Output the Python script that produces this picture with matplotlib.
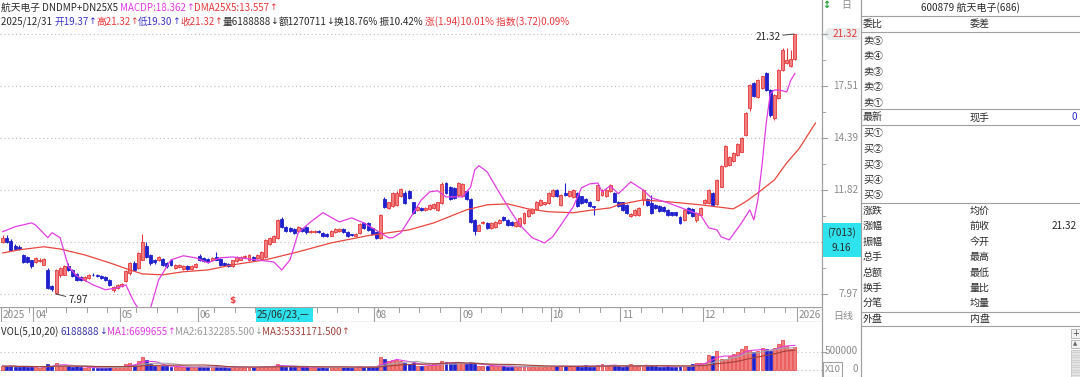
import numpy as np
import pandas as pd
import matplotlib
matplotlib.use('Agg')
import matplotlib.pyplot as plt
from matplotlib.patches import Rectangle, Polygon

plt.rcParams['font.family'] = ['Noto Sans CJK SC', 'DejaVu Sans']
plt.rcParams['axes.unicode_minus'] = False

# ---------------- data ----------------
holidays = ['2025-04-04', '2025-05-01', '2025-05-02', '2025-05-05', '2025-06-02',
            '2025-10-01', '2025-10-02', '2025-10-03', '2025-10-06', '2025-10-07', '2025-10-08']

opens = [9.72, 9.87, 9.74, 9.56, 9.52, 9.24, 9.18, 9.05, 9.00, 9.03, 8.90, 8.73, 8.22, 8.01, 8.57, 8.57,
         8.85, 8.73, 8.60, 8.51, 8.41, 8.46, 8.58, 8.57, 8.54, 8.51, 8.41, 8.08, 8.15, 8.20, 8.36, 8.62,
         8.95, 8.79, 9.07, 9.56, 9.24, 9.05, 9.07, 9.09, 8.95, 9.07, 8.80, 8.82, 8.76, 8.85, 8.76, 8.84,
         9.21, 9.13, 9.10, 9.07, 9.16, 9.09, 8.95, 8.93, 8.85, 9.02, 9.07, 9.17, 9.05, 9.16, 9.13, 9.09,
         9.18, 9.64, 9.72, 9.84, 10.58, 10.28, 10.25, 10.18, 10.10, 10.22, 10.26, 10.08, 10.08, 10.12,
         10.03, 10.00, 9.94, 10.06, 10.10, 10.21, 10.09, 9.99, 9.94, 10.03, 10.41, 10.44, 10.22, 10.06,
         9.85, 11.40, 11.04, 11.13, 11.17, 11.53, 11.70, 11.75, 11.27, 10.96, 11.02, 10.96, 10.99, 11.04,
         10.96, 11.25, 12.12, 11.94, 11.90, 11.60, 11.56, 11.75, 11.41, 10.55, 10.13, 10.42, 10.44, 10.22,
         10.28, 10.42, 10.68, 10.55, 10.48, 10.31, 10.31, 10.42, 10.69, 10.84, 11.00, 11.17, 11.21, 11.25,
         11.53, 11.82, 11.17, 11.68, 11.56, 11.51, 11.68, 11.53, 11.41, 11.31, 11.11, 11.38, 11.60, 11.56,
         11.75, 11.68, 11.31, 11.27, 11.17, 10.71, 10.75, 10.75, 11.38, 11.41, 11.25, 11.17, 11.13, 11.07,
         10.96, 10.85, 10.85, 10.68, 10.55, 11.04, 11.00, 10.55, 10.75, 11.25, 11.25, 11.68, 11.21, 11.97,
         12.92, 12.99, 13.16, 13.49, 13.66, 14.55, 16.10, 17.70, 16.80, 17.36, 18.40, 17.25, 15.52, 16.74,
         18.61, 19.12, 18.87, 19.37]
closes = [9.86, 9.69, 9.42, 9.44, 9.45, 9.01, 9.00, 8.85, 9.14, 9.07, 9.10, 8.15, 8.13, 8.73, 8.79, 8.85,
          8.73, 8.54, 8.41, 8.41, 8.49, 8.57, 8.56, 8.52, 8.46, 8.41, 8.25, 8.18, 8.25, 8.27, 8.68, 8.95,
          8.73, 9.30, 9.72, 9.16, 8.95, 8.98, 9.18, 8.90, 8.85, 8.90, 8.90, 8.90, 8.85, 8.75, 8.86, 8.93,
          9.07, 9.02, 8.98, 9.13, 9.07, 8.90, 8.90, 8.85, 9.05, 9.16, 9.16, 9.21, 9.24, 9.07, 9.24, 9.33,
          9.78, 9.84, 9.91, 10.55, 10.27, 10.10, 10.10, 10.04, 10.28, 10.12, 10.06, 10.12, 10.12, 10.08,
          9.94, 9.94, 10.11, 10.18, 10.21, 10.06, 9.94, 9.96, 10.02, 10.37, 10.22, 10.16, 10.01, 9.85,
          10.75, 11.07, 11.27, 11.68, 11.70, 11.85, 11.24, 11.47, 10.83, 11.09, 10.96, 11.04, 11.17, 11.21,
          11.27, 12.09, 11.68, 11.41, 11.45, 12.12, 12.09, 11.41, 10.48, 10.10, 10.35, 10.48, 10.22, 10.44,
          10.48, 10.55, 10.55, 10.35, 10.35, 10.48, 10.62, 10.82, 10.96, 10.99, 11.31, 11.38, 11.27, 11.68,
          11.82, 11.56, 11.60, 11.60, 11.75, 11.82, 11.11, 11.25, 11.27, 11.11, 11.07, 12.04, 11.82, 11.82,
          12.04, 11.31, 11.11, 10.96, 10.82, 10.80, 10.96, 11.04, 11.82, 11.17, 10.84, 11.04, 10.93, 10.90,
          10.75, 10.76, 10.76, 10.42, 10.96, 10.82, 10.69, 10.82, 11.04, 11.38, 11.82, 11.17, 12.27, 12.92,
          13.93, 13.41, 13.58, 14.07, 14.37, 15.83, 17.55, 16.84, 17.90, 18.16, 17.25, 15.69, 16.93, 18.61,
          20.07, 19.32, 19.38, 21.32]
highs = [9.95, 9.95, 9.80, 9.62, 9.60, 9.28, 9.22, 9.08, 9.18, 9.12, 9.14, 8.78, 8.25, 8.75, 8.84, 8.90,
         8.95, 8.76, 8.63, 8.54, 8.52, 8.60, 8.62, 8.60, 8.57, 8.54, 8.44, 8.22, 8.28, 8.31, 8.72, 9.00,
         9.02, 9.35, 10.01, 9.70, 9.28, 9.10, 9.22, 9.12, 8.98, 9.10, 8.93, 8.94, 8.88, 8.88, 8.89, 8.96,
         9.26, 9.16, 9.13, 9.16, 9.36, 9.12, 8.98, 8.96, 9.08, 9.19, 9.19, 9.25, 9.28, 9.19, 9.27, 9.37,
         9.82, 9.90, 9.96, 10.60, 10.68, 10.32, 10.28, 10.22, 10.32, 10.25, 10.30, 10.16, 10.15, 10.15,
         10.06, 10.03, 10.14, 10.22, 10.25, 10.24, 10.12, 10.02, 10.05, 10.41, 10.45, 10.48, 10.25, 10.09,
         10.80, 11.50, 11.31, 11.72, 11.75, 11.92, 11.75, 11.80, 11.31, 11.12, 11.06, 11.08, 11.20, 11.25,
         11.30, 12.20, 12.16, 11.98, 11.94, 12.16, 12.14, 11.80, 11.45, 10.59, 10.39, 10.52, 10.48, 10.48,
         10.52, 10.59, 10.72, 10.59, 10.52, 10.52, 10.66, 10.86, 11.00, 11.03, 11.35, 11.42, 11.31, 11.72,
         11.86, 11.86, 11.64, 12.12, 11.79, 11.86, 11.72, 11.57, 11.45, 11.35, 11.12, 12.08, 11.86, 11.86,
         12.08, 11.72, 11.35, 11.31, 11.21, 10.84, 11.00, 11.08, 11.88, 11.45, 11.60, 11.21, 11.17, 11.11,
         11.00, 10.89, 10.89, 10.72, 11.00, 11.08, 11.04, 10.86, 11.08, 11.42, 11.86, 11.72, 12.30, 12.97,
         14.00, 13.46, 13.63, 14.12, 14.42, 15.88, 17.62, 17.80, 17.98, 18.22, 18.47, 17.30, 16.98, 18.68,
         20.22, 20.20, 20.07, 21.32]
lows = [9.68, 9.66, 9.38, 9.40, 9.40, 8.97, 8.96, 8.80, 8.97, 8.98, 8.88, 8.12, 8.05, 7.97, 8.50, 8.55,
        8.70, 8.51, 8.38, 8.38, 8.38, 8.44, 8.53, 8.49, 8.43, 8.38, 8.22, 8.03, 8.12, 8.17, 8.33, 8.58,
        8.68, 8.75, 9.05, 9.12, 8.90, 8.93, 9.03, 8.86, 8.81, 8.86, 8.77, 8.79, 8.73, 8.72, 8.73, 8.81,
        9.03, 8.99, 8.95, 9.04, 9.05, 8.87, 8.87, 8.82, 8.83, 9.00, 9.05, 9.14, 9.03, 9.04, 9.10, 9.07,
        9.15, 9.60, 9.69, 9.80, 10.22, 10.06, 10.06, 10.00, 10.07, 10.08, 10.02, 10.05, 10.05, 10.05,
        9.90, 9.90, 9.91, 10.03, 10.07, 10.03, 9.90, 9.93, 9.91, 10.00, 10.18, 10.12, 9.97, 9.81,
        9.82, 11.02, 11.00, 11.09, 11.13, 11.49, 11.20, 11.43, 10.79, 10.92, 10.92, 10.92, 10.95, 11.00,
        10.92, 11.21, 11.64, 11.37, 11.41, 11.56, 11.52, 11.37, 10.44, 9.95, 10.10, 10.38, 10.18, 10.18,
        10.25, 10.38, 10.51, 10.31, 10.31, 10.28, 10.28, 10.38, 10.65, 10.80, 10.96, 11.13, 11.17, 11.21,
        11.49, 11.52, 11.13, 11.56, 11.52, 11.47, 11.07, 11.21, 11.23, 11.07, 10.75, 11.34, 11.56, 11.52,
        11.71, 11.27, 11.07, 10.92, 10.78, 10.67, 10.71, 10.71, 11.17, 11.13, 10.80, 11.00, 10.89, 10.86,
        10.71, 10.72, 10.72, 10.38, 10.51, 10.78, 10.65, 10.45, 10.71, 11.21, 11.21, 11.13, 11.17, 11.93,
        12.88, 12.95, 13.12, 13.45, 13.62, 14.50, 15.95, 16.78, 16.74, 17.30, 17.20, 15.60, 15.40, 16.70,
        18.55, 19.00, 18.80, 19.30]
volumes = [95000, 85000, 110000, 70000, 60000, 100000, 75000, 85000, 60000, 50000, 70000,
           150000, 110000, 190000,
           110000, 100000, 90000, 80000, 85000, 60000, 55000, 60000, 45000, 40000, 50000, 50000, 70000, 65000, 60000,
           80000, 160000, 190000, 130000, 230000, 340000, 260000, 160000, 110000, 95000, 100000, 85000,
           80000, 70000, 65000, 60000, 70000, 65000, 70000, 90000, 80000, 70000, 60000, 85000, 75000, 60000,
           55000, 65000, 70000, 60000, 55000, 65000, 60000, 70000, 75000, 110000, 90000, 85000,
           140000, 120000,
           80000, 70000, 75000, 65000, 60000, 70000, 55000, 50000, 55000, 60000, 50000, 60000, 65000, 70000,
           60000, 65000, 55000, 60000, 90000, 75000, 80000, 70000, 65000,
           340000, 290000, 240000, 270000, 260000, 230000,
           190000, 160000, 170000, 110000, 90000, 100000, 120000,
           140000, 170000, 240000, 210000, 170000, 170000, 190000, 170000, 150000,
           200000, 160000, 110000, 90000, 100000, 100000, 110000, 90000,
           90000, 80000, 70000, 75000, 80000, 90000, 85000, 80000, 90000, 95000, 70000, 100000, 110000, 90000,
           85000, 100000, 80000, 85000, 100000, 80000, 130000, 75000, 80000, 130000,
           140000, 110000, 100000, 120000, 90000, 80000, 85000, 160000, 90000, 100000, 120000, 110000, 120000,
           85000, 80000, 75000, 90000, 70000, 65000, 110000, 90000, 90000, 160000, 170000, 190000,
           190000, 410000, 380000, 510000, 300000, 280000, 385000, 430000, 480000, 560000, 640000, 530000,
           480000, 520000, 600000, 560000, 510000, 590000, 700000, 817000, 650000, 565000, 618889]

dma_idx = [0, 4, 10, 14, 20, 26, 31, 34, 39, 44, 50, 56, 64, 72, 80, 89, 94, 99, 105, 113, 118, 123, 128,
           133, 139, 144, 148, 150, 156, 162, 170, 178, 181, 184, 188, 191, 194, 198]
dma_val = [9.31, 9.42, 9.53, 9.45, 9.24, 8.97, 8.73, 8.60, 8.57, 8.67, 8.73, 8.90, 9.07, 9.35, 9.67, 9.94,
           10.05, 10.16, 10.43, 10.96, 11.17, 11.21, 11.00, 10.88, 10.84, 10.96, 11.04, 11.17, 11.38, 11.30,
           11.17, 11.00, 11.30, 11.69, 12.27, 13.09, 13.81, 15.22]

macdp_idx = [0, 3, 7, 8, 11, 12, 14, 16, 18, 22, 25, 28, 30, 32, 33, 34, 36, 38, 41, 44, 47, 50, 53, 56, 60,
             66, 68, 70, 72, 75, 78, 82, 85, 88, 90, 92, 94, 95, 97, 99, 102, 104, 106, 108, 110, 112, 114,
             115, 116, 118, 121, 124, 126, 129, 132, 134, 136, 139, 141, 143, 145, 146, 148, 150, 153, 156,
             158, 162, 166, 170, 172, 174, 175, 177, 180, 182, 183, 184, 185, 186, 187, 188, 189, 190, 191,
             192, 193]
macdp_val = [10.09, 10.28, 10.43, 10.35, 9.86, 10.05, 9.86, 8.84, 8.54, 8.25, 8.10, 8.16, 8.25, 7.73, 7.55,
             7.33, 7.55, 8.41, 9.07, 9.21, 9.14, 8.97, 9.14, 9.17, 9.10, 9.00, 8.73, 9.07, 10.05, 10.47,
             10.84, 10.47, 10.63, 10.43, 10.24, 10.05, 9.86, 9.86, 10.05, 10.55, 11.38, 11.73, 11.78, 11.51,
             11.51, 11.51, 11.95, 12.75, 12.95, 12.66, 11.69, 10.84, 10.35, 9.86, 9.67, 9.90, 10.35, 11.09,
             11.91, 12.09, 12.13, 11.73, 12.00, 11.65, 12.18, 11.82, 11.47, 11.26, 11.00, 10.75, 10.24,
             10.16, 9.90, 9.78, 10.43, 10.96, 10.55, 11.40, 13.00, 15.20, 17.00, 17.25, 17.25, 17.20,
             17.12, 17.90, 18.36]

price_ticks = [21.32, 17.51, 14.39, 11.82, 9.71, 7.97]
price_tick_labels = ['21.32', '17.51', '14.39', '11.82', '', '7.97']
vol_ticks = [500000, 0]
vol_tick_labels = ['500000', '0']
cursor_price = 9.16
cursor_text = ['(7013)', '9.16']
cursor_date = '25/06/23,—'
cursor_day = 62
dividend_day = 56
low_day, high_day = 13, 193

header1 = [('航天电子 DNDMP+DN25X5 ', 'k'), ('MACDP:18.362↑', 'mag'), ('DMA25X5:13.557↑', 'red')]
header2 = [('2025/12/31 ', 'k'), ('开19.37↑', 'blue'), ('高21.32↑', 'red'), ('低19.30↑', 'blue'),
           ('收21.32↑', 'red'), ('量6188888↓额1270711↓换18.76% 振10.42% ', 'k'),
           ('涨(1.94)10.01% 指数(3.72)0.09%', 'red')]
vol_header = [('VOL(5,10,20) ', 'k'), ('6188888↓', 'vblue'), ('MA1:6699655↑', 'mag'),
              ('MA2:6132285.500↓', 'gray'), ('MA3:5331171.500↑', 'brown')]

panel_title = '600879 航天电子(686)'
panel_rows = [('委比', '委差', ''), ('卖⑤', '', ''), ('卖④', '', ''), ('卖③', '', ''), ('卖②', '', ''),
              ('卖①', '', ''), ('最新', '现手', '0'), ('买①', '', ''), ('买②', '', ''), ('买③', '', ''),
              ('买④', '', ''), ('买⑤', '', ''), ('涨跌', '均价', ''), ('涨幅', '前收', '21.32'),
              ('振幅', '今开', ''), ('总手', '最高', ''), ('总额', '最低', ''), ('换手', '量比', ''),
              ('分笔', '均量', ''), ('外盘', '内盘', '')]

# ---------------- style ----------------
W, H = 1080, 377
RED_E = '#E5393B'
RED_F = '#F27F7F'
BLUE = '#2020CC'
MAG = '#E23DE2'
DMA_C = '#E8463E'
GRID = '#BDBDBD'
AXC = '#A0A0A0'
TXT = '#2A2A2A'
LBL = '#8A8A8A'
CYAN = '#2FE3EE'
colmap = {'k': TXT, 'mag': '#E03AE0', 'red': '#E8383A', 'blue': '#3A34C8', 'vblue': '#3A34A8',
          'gray': '#9A9A9A', 'brown': '#A2413A'}
FS = 7.2
HFS = 7.0

o = np.array(opens); c = np.array(closes); h = np.array(highs); l = np.array(lows)
vol = np.array(volumes, dtype=float)
n = len(c)
idx = np.arange(n)
up = c >= o

days = pd.bdate_range('2025-03-20', '2025-12-31')
days = days[~days.isin(pd.to_datetime(holidays))][:n]

fig = plt.figure(figsize=(W / 100, H / 100), dpi=100)
fig.patch.set_facecolor('white')


def fbox(x0, y0, x1, y1):
    return [x0 / W, 1 - y1 / H, (x1 - x0) / W, (y1 - y0) / H]


X0, X1 = -0.66, 199.6

# ---------------- price panel ----------------
ax = fig.add_axes(fbox(0, 28, 822, 307))
ax.set_yscale('log')
lnhi, lnlo = np.log(price_ticks[0]), np.log(price_ticks[-1])
ppx = (lnhi - lnlo) / 260.0
ax.set_ylim(np.exp(lnlo - 13 * ppx), np.exp(lnhi + 6 * ppx))
ax.set_xlim(X0, X1)
ax.axis('off')
for p in price_ticks:
    ax.axhline(p, color=GRID, lw=0.8, ls=(0, (1, 2.5)), zorder=0)

ax.vlines(idx, l, h, colors=np.where(up, RED_E, BLUE), lw=0.8, zorder=2)
ax.bar(idx[up], (c - o)[up], bottom=o[up], width=0.72, color=RED_F, edgecolor=RED_E, lw=0.6, zorder=3)
ax.bar(idx[~up], (o - c)[~up], bottom=c[~up], width=0.72, color=BLUE, edgecolor=BLUE, lw=0.6, zorder=3)
ax.plot(dma_idx, dma_val, color=DMA_C, lw=0.9, zorder=4)
ax.plot(macdp_idx, macdp_val, color=MAG, lw=0.9, zorder=4)

ax.annotate(f'{h[high_day]:.2f}', xy=(high_day - 0.2, h[high_day]), xytext=(-10, -2),
            textcoords='offset points', ha='right', va='center', fontsize=FS, color=TXT,
            arrowprops=dict(arrowstyle='-', color='#444444', lw=0.7, shrinkA=0, shrinkB=0), zorder=6)
ax.annotate(f'{l[low_day]:.2f}', xy=(low_day, l[low_day]), xytext=(9, -4),
            textcoords='offset points', ha='left', va='center', fontsize=FS, color=TXT,
            arrowprops=dict(arrowstyle='-', color='#444444', lw=0.7, shrinkA=0, shrinkB=0), zorder=6)
ax.text(dividend_day, 0.025, '$', transform=ax.get_xaxis_transform(), color='#E8383A',
        fontsize=6.5, ha='center', va='center', fontweight='bold', family='DejaVu Sans')

# ---------------- date bar ----------------
axb = fig.add_axes(fbox(0, 307, 822, 322))
axb.set_xlim(X0, X1)
axb.set_ylim(0, 1)
axb.axis('off')
axb.axhline(1, color=AXC, lw=0.9)
axb.axhline(0, color=AXC, lw=0.9)
wk = days.isocalendar().week.values
week_starts = [i for i in range(1, n) if wk[i] != wk[i - 1]]
mon = days.month.values
month_starts = [i for i in range(1, n) if mon[i] != mon[i - 1]]
for i in week_starts:
    axb.plot([i - 0.5, i - 0.5], [0.65, 1], color=AXC, lw=0.7)
labels = [(0, '2025')] + [(i, f'{mon[i]:02d}') for i in month_starts] + [(n, '2026')]
for i, s in labels:
    axb.plot([i - 0.5, i - 0.5], [0, 1], color=AXC, lw=0.8)
    if cursor_day - 1 <= i <= cursor_day + 14:
        continue  # hidden under the cursor date box
    axb.text(i - 0.1, 0.45, s, fontsize=FS, color=LBL, ha='left', va='center', clip_on=True)

# ---------------- volume panel ----------------
axv = fig.add_axes(fbox(0, 338, 822, 377))
axv.set_xlim(X0, X1)
vpx = 500000 / 18.0
axv.set_ylim(-7.5 * vpx, 31.5 * vpx)
axv.axis('off')
for v in vol_ticks:
    axv.axhline(v, color=GRID, lw=0.8, ls=(0, (1, 2.5)), zorder=0)
axv.bar(idx[up], vol[up], width=0.72, color=RED_F, edgecolor=RED_E, lw=0.5, zorder=2)
axv.bar(idx[~up], vol[~up], width=0.72, color=BLUE, edgecolor=BLUE, lw=0.5, zorder=2)
vs = pd.Series(vol)
axv.plot(idx, vs.rolling(5, min_periods=1).mean(), color=MAG, lw=0.8, zorder=3)
axv.plot(idx, vs.rolling(10, min_periods=1).mean(), color='#A8A8A8', lw=0.8, zorder=3)
axv.plot(idx, vs.rolling(20, min_periods=1).mean(), color='#A2413A', lw=0.8, zorder=3)

# ---------------- overlay (chrome, right axis, panel) ----------------
ov = fig.add_axes([0, 0, 1, 1], zorder=10)
ov.set_xlim(0, W)
ov.set_ylim(H, 0)
ov.axis('off')
renderer = fig.canvas.get_renderer()


def py_price(p):
    return H - ax.transData.transform((0, p))[1]


def py_vol(v):
    return H - axv.transData.transform((0, v))[1]


ARROWS = '↑↓'


def seq(x, y, parts, fs=HFS):
    for s, col in parts:
        runs, cur = [], ''
        for ch in s:
            if ch in ARROWS:
                if cur:
                    runs.append((cur, False))
                    cur = ''
                runs.append((ch, True))
            else:
                cur += ch
        if cur:
            runs.append((cur, False))
        for r, is_arrow in runs:
            if is_arrow:
                t = ov.text(x, y, r, color=colmap[col], fontsize=fs * 0.95, ha='left', va='center',
                            family='DejaVu Sans')
            else:
                t = ov.text(x, y, r, color=colmap[col], fontsize=fs, ha='left', va='center')
            x = t.get_window_extent(renderer=renderer).x1


seq(1, 8, header1)
seq(1, 22, header2)
seq(1, 332, vol_header)

# separators
ov.plot([822, 822], [0, H], color=AXC, lw=0.9)
ov.plot([861, 861], [0, H], color=AXC, lw=0.9)

# right price axis
for p, s in zip(price_ticks, price_tick_labels):
    yy = py_price(p)
    ov.plot([822, 827], [yy, yy], color=AXC, lw=0.8)
    if s:
        if p == price_ticks[0]:
            ov.add_patch(Polygon([[823, yy], [828, yy - 6], [860, yy - 6], [860, yy + 6], [828, yy + 6]],
                                 closed=True, facecolor='#E9ECEC', edgecolor='none'))
            ov.text(858, yy, s, color='#E8383A', fontsize=FS, ha='right', va='center')
        else:
            ov.text(858, yy, s, color=LBL, fontsize=FS, ha='right', va='center')
for a, b in zip(price_ticks[:-1], price_ticks[1:]):
    yy = py_price(np.sqrt(a * b))
    ov.plot([822, 825], [yy, yy], color=AXC, lw=0.7)
yc = py_price(cursor_price)
ov.add_patch(Rectangle((822.5, yc - 34), 38, 34, facecolor=CYAN, edgecolor='none', zorder=4))
ov.text(841.5, yc - 25, cursor_text[0], fontsize=FS, color=TXT, ha='center', va='center', zorder=5)
ov.text(841.5, yc - 9, cursor_text[1], fontsize=FS, color=TXT, ha='center', va='center', zorder=5)

# cursor date box
xcur = ax.transData.transform((cursor_day - 0.3, 1))[0]
ov.add_patch(Rectangle((xcur, 307.5), 57, 14, facecolor=CYAN, edgecolor='none', zorder=4))
ov.text(xcur + 1, 314.5, cursor_date, fontsize=FS, color=TXT, ha='left', va='center', zorder=5)

ov.text(843, 316, '日线', fontsize=FS, color=LBL, ha='center', va='center')
ov.text(846, 5, '日', fontsize=FS, color=LBL, ha='center', va='center')
ov.text(826, 5, '↕', fontsize=7, color='#1F9A3A', ha='center', va='center', family='DejaVu Sans',
        fontweight='bold')

# volume axis
for v, s in zip(vol_ticks, vol_tick_labels):
    yy = py_vol(v)
    ov.plot([822, 826], [yy, yy], color=AXC, lw=0.8)
    ov.text(858, yy, s, color=LBL, fontsize=FS, ha='right', va='center')
ov.add_patch(Rectangle((823, 362), 19, 14.5, facecolor='white', edgecolor=AXC, lw=0.8, zorder=4))
ov.text(832.5, 369.5, 'X10', fontsize=FS - 0.4, color=LBL, ha='center', va='center', zorder=5)

# right panel
ov.text(970, 8, panel_title, fontsize=FS, color=TXT, ha='center', va='center')
for yy in [16, 31.7, 109, 125, 202.7, 311.7, 326]:
    ov.plot([861, W], [yy, yy], color=AXC, lw=0.8)
row_y = [24, 40.7, 56, 71.7, 87.3, 102.7, 117.3, 133, 149, 164.7, 180, 195,
         210.7, 226, 241.7, 256.7, 272.7, 288.3, 303.3, 319.3]
for (a, b, v), yy in zip(panel_rows, row_y):
    ov.text(863, yy, a, fontsize=FS, color=TXT, ha='left', va='center')
    if b:
        ov.text(970, yy, b, fontsize=FS, color=TXT, ha='left', va='center')
    if v:
        ov.text(1077, yy, v, fontsize=FS, color=('#2A2AD0' if v == '0' else TXT), ha='right', va='center')

# scroll bar
ov.add_patch(Rectangle((1071, 328.5), 8.5, 9, facecolor='#F2F2F2', edgecolor='#B0B0B0', lw=0.6))
ov.text(1075.2, 333, '+', fontsize=6, color='#444444', ha='center', va='center', family='DejaVu Sans')
ov.add_patch(Rectangle((1071, 340), 8.5, 8, facecolor='#F2F2F2', edgecolor='#B0B0B0', lw=0.6))
ov.text(1075.2, 344, '▲', fontsize=4, color='#666666', ha='center', va='center', family='DejaVu Sans')
ov.add_patch(Rectangle((1071, 350), 8.5, 27, facecolor='#E4E4E4', edgecolor='#C0C0C0', lw=0.6))
for yy in np.arange(352, 377, 2.5):
    ov.plot([1072, 1079], [yy, yy], color='#C8C8C8', lw=0.5)

fig.savefig('out.png', dpi=100, facecolor='white')
